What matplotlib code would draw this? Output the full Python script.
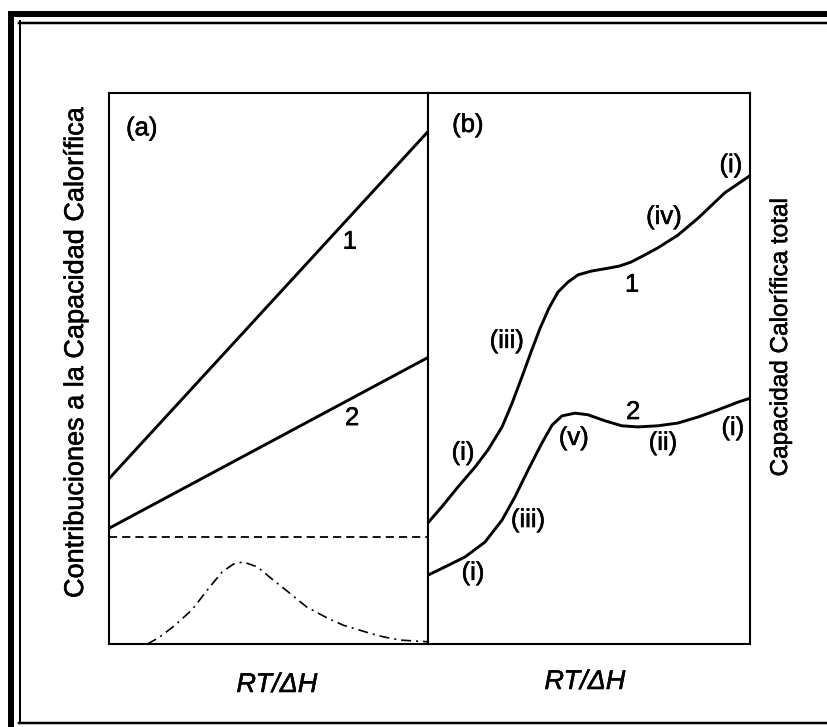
import matplotlib
matplotlib.use("Agg")
import matplotlib.pyplot as plt
from matplotlib.lines import Line2D
import matplotlib.patheffects as pe

plt.rcParams['font.family'] = ['Liberation Sans', 'DejaVu Sans']

# ---- panel (a): contributions to the heat capacity ----
a_x_ends = [0.0, 10.0]
a_line1 = [3.0, 9.3]
a_line2 = [2.1, 5.2]
a_dashed = [1.95, 1.95]
a_bump_x = [1.2, 1.55, 2.05, 2.6, 3.15, 3.55, 3.9, 4.2, 4.65, 5.15, 5.65,
            6.2, 6.85, 7.35, 7.75, 8.15, 8.6, 9.15, 10.0]
a_bump_y = [0.0, 0.11, 0.33, 0.62, 1.03, 1.31, 1.45, 1.49, 1.40, 1.16, 0.93,
            0.67, 0.47, 0.34, 0.27, 0.20, 0.13, 0.07, 0.04]
a_labels = ['1', '2']
a_label_x = [7.55, 7.62]
a_label_y = [7.30, 4.10]

# ---- panel (b): total heat capacity ----
b1_x = [0.0, 0.43, 0.93, 1.46, 1.86, 2.30, 2.61, 2.92, 3.20, 3.48, 3.76,
        4.04, 4.35, 4.66, 5.09, 5.59, 5.95, 6.30, 6.70, 7.14, 7.76, 8.39, 9.22, 10.0]
b1_y = [2.20, 2.49, 2.85, 3.21, 3.52, 3.94, 4.37, 4.85, 5.30, 5.73, 6.10,
        6.39, 6.57, 6.70, 6.77, 6.82, 6.86, 6.93, 7.05, 7.19, 7.42, 7.73, 8.19, 8.50]
b2_x = [0.0, 0.53, 1.15, 1.77, 2.30, 2.70, 3.11, 3.54, 3.85, 4.16, 4.57,
        4.97, 5.50, 6.02, 6.52, 7.14, 7.76, 8.39, 9.01, 9.63, 10.0]
b2_y = [1.25, 1.40, 1.58, 1.85, 2.25, 2.67, 3.16, 3.65, 3.97, 4.14, 4.19,
        4.16, 4.05, 3.96, 3.94, 3.96, 4.01, 4.12, 4.25, 4.39, 4.46]
b_labels = ['(i)', '(iii)', '1', '(iv)', '(i)',
            '(i)', '(iii)', '(v)', '2', '(ii)', '(i)']
b_label_x = [1.09, 2.45, 6.34, 7.33, 9.41,
             1.40, 3.11, 4.53, 6.37, 7.30, 9.47]
b_label_y = [3.47, 5.50, 6.52, 7.75, 8.69,
             1.29, 2.25, 3.74, 4.21, 3.65, 3.92]

W, H = 827, 727
fig = plt.figure(figsize=(W / 100, H / 100), dpi=100)

# page frame drawn in pixel units
bg = fig.add_axes([0, 0, 1, 1])
bg.set_xlim(0, W)
bg.set_ylim(H, 0)
bg.axis('off')
px = 72 / 100
bg.add_line(Line2D([10.5, 10.5], [11, H], color='black', lw=6 * px, solid_capstyle='butt'))
bg.add_line(Line2D([8, W], [14, 14], color='black', lw=6 * px, solid_capstyle='butt'))
bg.add_line(Line2D([19.5, 19.5], [21, 723], color='black', lw=2 * px))
bg.add_line(Line2D([19, W], [22.5, 22.5], color='black', lw=2.5 * px))
bg.add_line(Line2D([19, W], [723, 723], color='black', lw=2.5 * px))


def panel_axes(left, right, top, bottom):
    return fig.add_axes([left / W, 1 - bottom / H, (right - left) / W, (bottom - top) / H])


FS = 18.5
heavy = [pe.withStroke(linewidth=0.4, foreground='black')]
spine_lw = 1.5

axa = panel_axes(109, 428, 93, 644)
axb = panel_axes(428, 750, 93, 644)
for ax in (axa, axb):
    ax.set_xlim(0, 10)
    ax.set_ylim(0, 10)
    ax.set_xticks([])
    ax.set_yticks([])
    for s in ax.spines.values():
        s.set_linewidth(spine_lw)

line_lw = 2.1
axa.plot(a_x_ends, a_line1, color='black', lw=line_lw)
axa.plot(a_x_ends, a_line2, color='black', lw=line_lw)
axa.plot(a_x_ends, a_dashed, color='black', lw=1.3, dashes=(4.5, 2.8))
axa.plot(a_bump_x, a_bump_y, color='black', lw=1.2, dashes=(6, 3, 1.2, 3))
for t, x, y in zip(a_labels, a_label_x, a_label_y):
    axa.text(x, y, t, fontsize=FS, ha='center', va='center', path_effects=heavy)
axa.text(1.03, 9.36, '(a)', fontsize=FS, ha='center', va='center', path_effects=heavy)

axb.plot(b1_x, b1_y, color='black', lw=line_lw)
axb.plot(b2_x, b2_y, color='black', lw=line_lw)
for t, x, y in zip(b_labels, b_label_x, b_label_y):
    axb.text(x, y, t, fontsize=FS, ha='center', va='center', path_effects=heavy)
axb.text(1.24, 9.42, '(b)', fontsize=FS, ha='center', va='center', path_effects=heavy)

# axis titles
fig.text(76 / W, 1 - 352 / H, 'Contribuciones a la Capacidad Calorífica',
         rotation=90, fontsize=19.5, ha='center', va='center', path_effects=heavy)
fig.text(781 / W, 1 - 338 / H, 'Capacidad Calorífica total',
         rotation=90, fontsize=17.5, ha='center', va='center', path_effects=heavy)
fig.text(277 / W, 1 - 685 / H, 'RT/ΔH', style='italic', fontsize=19.5,
         ha='center', va='center', path_effects=heavy)
fig.text(585 / W, 1 - 682 / H, 'RT/ΔH', style='italic', fontsize=19.5,
         ha='center', va='center', path_effects=heavy)

fig.savefig('out.png', dpi=100, facecolor='white')
